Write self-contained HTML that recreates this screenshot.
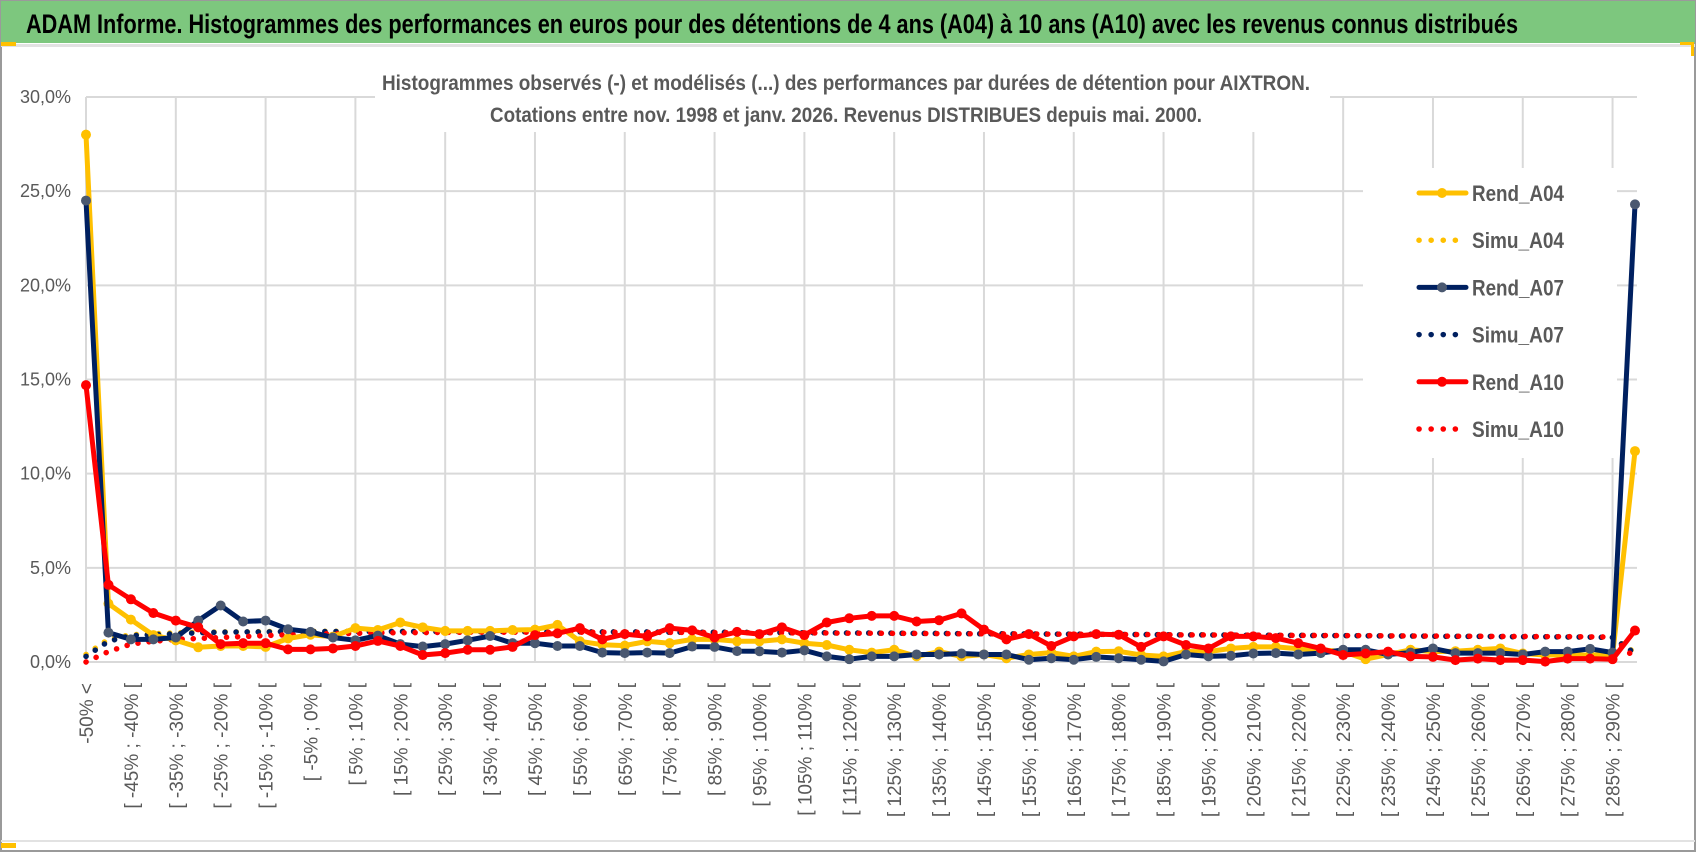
<!DOCTYPE html>
<html><head><meta charset="utf-8"><style>
html,body{margin:0;padding:0;background:#fff;}
svg{display:block;}
text{font-family:"Liberation Sans Narrow","Liberation Sans",sans-serif;}
</style></head><body>
<svg id="chart" width="1698" height="854" viewBox="0 0 1698 854" xmlns="http://www.w3.org/2000/svg">
<rect x="0" y="0" width="1698" height="854" fill="#fff"/>
<rect x="1" y="1" width="1694" height="850" fill="none" stroke="#9a9a9a" stroke-width="2"/>
<rect x="1" y="1" width="1694" height="42" fill="#7dc77e"/>
<rect x="1" y="44" width="1694" height="3" fill="#e2e2e2"/>
<rect x="1" y="42" width="15" height="4" fill="#ffc000"/>
<rect x="1680" y="42" width="14" height="3" fill="#ffc000"/>
<rect x="1691" y="42" width="3" height="14" fill="#ffc000"/>
<rect x="1" y="843" width="15" height="5" fill="#ffc000"/>
<rect x="1" y="840" width="1694" height="2" fill="#e2e2e2"/>
<text x="26" y="33" font-size="27" font-weight="bold" fill="#000" textLength="1492" lengthAdjust="spacingAndGlyphs">ADAM Informe. Histogrammes des performances en euros pour des détentions de 4 ans (A04) à 10 ans (A10) avec les revenus connus distribués</text>
<g id="grid"></g>
<rect x="375" y="58" width="955" height="74" fill="#fff"/>
<text x="846" y="90" font-size="21" font-weight="bold" fill="#595959" text-anchor="middle" textLength="928" lengthAdjust="spacingAndGlyphs">Histogrammes observés (-) et modélisés (...)  des performances par durées de détention pour AIXTRON.</text>
<text x="846" y="122" font-size="21" font-weight="bold" fill="#595959" text-anchor="middle" textLength="712" lengthAdjust="spacingAndGlyphs">Cotations entre nov. 1998 et janv. 2026. Revenus DISTRIBUES depuis mai. 2000.</text>
<g id="yaxis"></g>
<g id="xaxis"></g>
<g id="series"></g>
<g id="legend"></g>
</svg>
<script>
const categories = ["-50% <","[ -50% ; -45% [","[ -45% ; -40% [","[ -40% ; -35% [","[ -35% ; -30% [","[ -30% ; -25% [","[ -25% ; -20% [","[ -20% ; -15% [","[ -15% ; -10% [","[ -10% ; -5% [","[ -5% ; 0% [","[ 0% ; 5% [","[ 5% ; 10% [","[ 10% ; 15% [","[ 15% ; 20% [","[ 20% ; 25% [","[ 25% ; 30% [","[ 30% ; 35% [","[ 35% ; 40% [","[ 40% ; 45% [","[ 45% ; 50% [","[ 50% ; 55% [","[ 55% ; 60% [","[ 60% ; 65% [","[ 65% ; 70% [","[ 70% ; 75% [","[ 75% ; 80% [","[ 80% ; 85% [","[ 85% ; 90% [","[ 90% ; 95% [","[ 95% ; 100% [","[ 100% ; 105% [","[ 105% ; 110% [","[ 110% ; 115% [","[ 115% ; 120% [","[ 120% ; 125% [","[ 125% ; 130% [","[ 130% ; 135% [","[ 135% ; 140% [","[ 140% ; 145% [","[ 145% ; 150% [","[ 150% ; 155% [","[ 155% ; 160% [","[ 160% ; 165% [","[ 165% ; 170% [","[ 170% ; 175% [","[ 175% ; 180% [","[ 180% ; 185% [","[ 185% ; 190% [","[ 190% ; 195% [","[ 195% ; 200% [","[ 200% ; 205% [","[ 205% ; 210% [","[ 210% ; 215% [","[ 215% ; 220% [","[ 220% ; 225% [","[ 225% ; 230% [","[ 230% ; 235% [","[ 235% ; 240% [","[ 240% ; 245% [","[ 245% ; 250% [","[ 250% ; 255% [","[ 255% ; 260% [","[ 260% ; 265% [","[ 265% ; 270% [","[ 270% ; 275% [","[ 275% ; 280% [","[ 280% ; 285% [","[ 285% ; 290% [","290% <"];
const yTicks = [0,5,10,15,20,25,30];
const yTickLabels = ["0,0%","5,0%","10,0%","15,0%","20,0%","25,0%","30,0%"];
const rendA04 = [28.0,3.1,2.25,1.43,1.15,0.78,0.85,0.85,0.8,1.25,1.45,1.35,1.8,1.7,2.1,1.84,1.65,1.65,1.65,1.7,1.72,1.97,1.1,0.92,0.87,1.1,1.0,1.2,1.2,1.1,1.1,1.2,1.0,0.9,0.65,0.5,0.65,0.3,0.55,0.3,0.4,0.2,0.4,0.5,0.3,0.55,0.57,0.37,0.3,0.55,0.55,0.72,0.8,0.8,0.7,0.65,0.55,0.15,0.4,0.65,0.55,0.57,0.65,0.72,0.45,0.37,0.37,0.37,0.37,11.2];
const rendA07 = [24.5,1.56,1.2,1.2,1.3,2.2,3.0,2.15,2.2,1.74,1.6,1.3,1.15,1.4,0.95,0.82,0.95,1.15,1.38,1.0,1.0,0.85,0.85,0.5,0.47,0.5,0.47,0.82,0.8,0.58,0.57,0.5,0.62,0.3,0.15,0.3,0.3,0.4,0.4,0.45,0.4,0.4,0.12,0.2,0.12,0.27,0.2,0.12,0.03,0.4,0.3,0.33,0.45,0.47,0.4,0.47,0.65,0.65,0.4,0.5,0.72,0.47,0.47,0.47,0.4,0.55,0.55,0.7,0.5,24.3];
const rendA10 = [14.7,4.1,3.33,2.6,2.2,1.84,0.95,1.0,1.0,0.67,0.67,0.72,0.85,1.12,0.85,0.37,0.47,0.65,0.65,0.8,1.43,1.52,1.8,1.2,1.48,1.36,1.8,1.68,1.3,1.6,1.48,1.84,1.43,2.1,2.32,2.45,2.45,2.15,2.22,2.58,1.72,1.2,1.48,0.85,1.36,1.48,1.45,0.8,1.36,0.9,0.72,1.36,1.36,1.27,1.0,0.72,0.37,0.45,0.55,0.3,0.27,0.1,0.18,0.1,0.1,0.02,0.18,0.18,0.15,1.67];
const simuA04 = [0.4,1.2,1.45,1.5,1.55,1.58,1.6,1.6,1.62,1.62,1.63,1.63,1.63,1.63,1.63,1.63,1.62,1.62,1.62,1.62,1.61,1.61,1.6,1.6,1.6,1.59,1.59,1.58,1.58,1.57,1.57,1.56,1.55,1.55,1.54,1.54,1.53,1.52,1.52,1.51,1.5,1.5,1.49,1.48,1.48,1.47,1.46,1.46,1.45,1.44,1.44,1.43,1.42,1.42,1.41,1.4,1.4,1.39,1.38,1.38,1.37,1.36,1.36,1.35,1.34,1.34,1.33,1.32,1.3,0.5];
const simuA07 = [0.3,1.1,1.4,1.45,1.5,1.55,1.58,1.6,1.6,1.62,1.62,1.62,1.62,1.62,1.62,1.62,1.62,1.62,1.62,1.62,1.6,1.6,1.6,1.6,1.6,1.6,1.58,1.58,1.58,1.57,1.57,1.56,1.55,1.55,1.54,1.54,1.53,1.52,1.52,1.51,1.5,1.5,1.49,1.48,1.48,1.47,1.46,1.46,1.45,1.44,1.44,1.43,1.42,1.42,1.41,1.4,1.4,1.39,1.38,1.38,1.37,1.36,1.36,1.35,1.34,1.34,1.33,1.32,1.3,0.45];
const simuA10 = [0.0,0.55,0.95,1.1,1.2,1.25,1.3,1.35,1.4,1.45,1.5,1.5,1.52,1.55,1.55,1.56,1.57,1.58,1.58,1.58,1.58,1.58,1.58,1.58,1.58,1.57,1.57,1.57,1.56,1.56,1.55,1.55,1.54,1.54,1.53,1.53,1.52,1.52,1.51,1.5,1.5,1.49,1.49,1.48,1.47,1.47,1.46,1.46,1.45,1.44,1.44,1.43,1.43,1.42,1.41,1.41,1.4,1.4,1.39,1.38,1.38,1.37,1.37,1.36,1.36,1.35,1.35,1.34,1.33,0.2];

const NS = "http://www.w3.org/2000/svg";
const X0 = 86, X1 = 1635, Y0 = 662, Y30 = 97;
function xPos(i){ return X0 + (X1 - X0) * i / (categories.length - 1); }
function yPos(v){ return Y0 + (Y30 - Y0) * v / 30; }
function mk(tag, attrs, parent){ const e = document.createElementNS(NS, tag); for (const k in attrs) e.setAttribute(k, attrs[k]); parent.appendChild(e); return e; }

const grid = document.getElementById('grid');
yTicks.forEach(function(t){
  const l = mk('line', {x1: X0, x2: X1 + 2, y1: yPos(t), y2: yPos(t), stroke: '#d9d9d9', 'stroke-width': 2}, grid);
  
  
});
categories.forEach(function(c, i){
  if (i % 4 !== 0) return;
  const l = mk('line', {x1: xPos(i), x2: xPos(i), y1: Y30, y2: Y0, stroke: '#d9d9d9', 'stroke-width': 2}, grid);
  
  
});
// legend background covers grid
const lgBg = mk('rect', {x: 1363, y: 168, width: 254, height: 290, fill: '#fff'}, grid);



const yaxis = document.getElementById('yaxis');
yTicks.forEach(function(t, k){
  const tx = mk('text', {x: 71, y: yPos(t) + 6, 'font-size': 18, fill: '#595959', 'text-anchor': 'end'}, yaxis);
  tx.textContent = yTickLabels[k];
  
  
});

const xaxis = document.getElementById('xaxis');
categories.forEach(function(c, i){
  if (i % 2 !== 0) return;
  const x = xPos(i) + 7, y = 683;
  const tx = mk('text', {x: x, y: y, 'font-size': 19, fill: '#595959', 'text-anchor': 'end', transform: 'rotate(-90 ' + x + ' ' + y + ')', style: 'font-family:"Liberation Sans",sans-serif'}, xaxis);
  tx.textContent = c;
  
  
});

const series = document.getElementById('series');
function pts(arr){ return arr.map(function(v, i){ return xPos(i).toFixed(1) + ',' + yPos(v).toFixed(1); }).join(' '); }
function dotted(arr, color, name){
  const p = mk('polyline', {points: pts(arr), fill: 'none', stroke: color, 'stroke-width': 5.5, 'stroke-linecap': 'round', 'stroke-dasharray': '0.1 11'}, series);
  
  
}
function solid(arr, color, mcolor, name){
  const g = mk('g', {}, series);
  
  
  const p = mk('polyline', {points: pts(arr), fill: 'none', stroke: color, 'stroke-width': 5, 'stroke-linejoin': 'round'}, g);
  
  
  arr.forEach(function(v, i){
    const c = mk('circle', {cx: xPos(i), cy: yPos(v), r: 5, fill: mcolor}, g);
    
    
  });
}
dotted(simuA04, '#ffc000', 'simu-a04-series');
dotted(simuA07, '#002060', 'simu-a07-series');
dotted(simuA10, '#ff0000', 'simu-a10-series');
solid(rendA04, '#ffc000', '#ffc000', 'rend-a04-series');
solid(rendA07, '#002060', '#4a5870', 'rend-a07-series');
solid(rendA10, '#ff0000', '#ff0000', 'rend-a10-series');

const legendNames = ["Rend_A04","Simu_A04","Rend_A07","Simu_A07","Rend_A10","Simu_A10"];
const legendColors = ["#ffc000","#ffc000","#002060","#002060","#ff0000","#ff0000"];
const legendMarkers = ["#ffc000","","#4a5870","","#ff0000",""];
const legend = document.getElementById('legend');
legendNames.forEach(function(n, k){
  const y = 193 + k * 47.2;
  const g = mk('g', {}, legend);
  
  
  if (legendMarkers[k]) {
    const l = mk('line', {x1: 1419, x2: 1466, y1: y, y2: y, stroke: legendColors[k], 'stroke-width': 5, 'stroke-linecap': 'round'}, g);
    
    
    const c = mk('circle', {cx: 1442, cy: y, r: 5, fill: legendMarkers[k]}, g);
    
    
  } else {
    const l = mk('line', {x1: 1419, x2: 1466, y1: y, y2: y, stroke: legendColors[k], 'stroke-width': 5.5, 'stroke-linecap': 'round', 'stroke-dasharray': '0.1 12'}, g);
    
    
  }
  const t = mk('text', {x: 1472, y: y + 8, 'font-size': 22, 'font-weight': 'bold', fill: '#595959', textLength: 92, lengthAdjust: 'spacingAndGlyphs'}, g);
  t.textContent = n;
  
  
});
</script>
</body></html>
